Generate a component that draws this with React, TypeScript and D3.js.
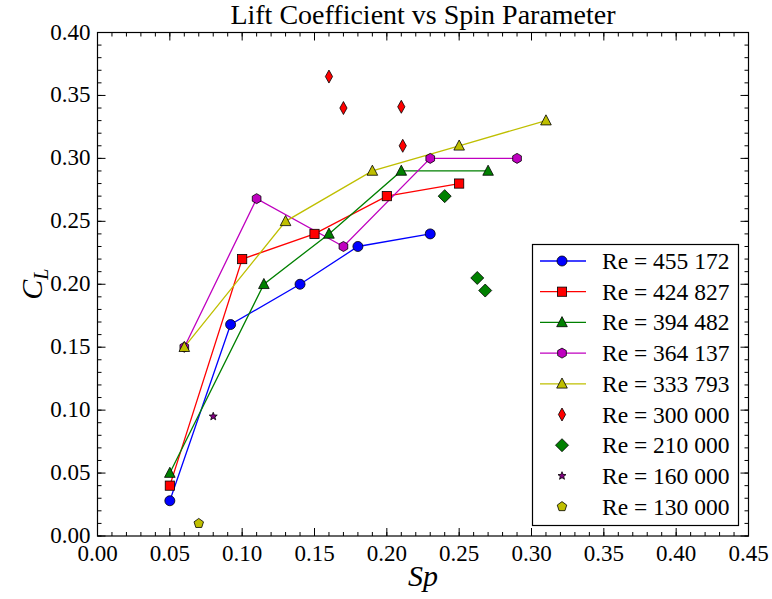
import React from "react";
import * as d3 from "d3";

const W = 772, H = 599;
const M = { left: 97.5, right: 748.5, top: 32.5, bottom: 536 };

const xTicks = [0, 0.05, 0.1, 0.15, 0.2, 0.25, 0.3, 0.35, 0.4, 0.45];
const yTicks = [0, 0.05, 0.1, 0.15, 0.2, 0.25, 0.3, 0.35, 0.4];

// Series with lines
const s455x = [0.05, 0.092, 0.14, 0.18, 0.23];
const s455y = [0.028, 0.168, 0.2, 0.23, 0.24];
const s424x = [0.05, 0.1, 0.15, 0.2, 0.25];
const s424y = [0.04, 0.22, 0.24, 0.27, 0.28];
const s394x = [0.05, 0.115, 0.16, 0.21, 0.27];
const s394y = [0.05, 0.2, 0.24, 0.29, 0.29];
const s364x = [0.06, 0.11, 0.17, 0.23, 0.29];
const s364y = [0.15, 0.268, 0.23, 0.3, 0.3];
const s333x = [0.06, 0.13, 0.19, 0.25, 0.31];
const s333y = [0.15, 0.25, 0.29, 0.31, 0.33];
// Scatter-only series
const s300x = [0.16, 0.17, 0.21, 0.211];
const s300y = [0.365, 0.34, 0.341, 0.31];
const s210x = [0.24, 0.2625, 0.268];
const s210y = [0.27, 0.205, 0.195];
const s160x = [0.08];
const s160y = [0.095];
const s130x = [0.07];
const s130y = [0.01];

const labels = [
  "Re = 455 172", "Re = 424 827", "Re = 394 482", "Re = 364 137", "Re = 333 793",
  "Re = 300 000", "Re = 210 000", "Re = 160 000", "Re = 130 000",
];

type Series = { xs: number[]; ys: number[]; color: string; marker: string; line: boolean; label: string };
const series: Series[] = [
  { xs: s455x, ys: s455y, color: "#0000ff", marker: "circle", line: true, label: labels[0] },
  { xs: s424x, ys: s424y, color: "#ff0000", marker: "square", line: true, label: labels[1] },
  { xs: s394x, ys: s394y, color: "#008000", marker: "triangle", line: true, label: labels[2] },
  { xs: s364x, ys: s364y, color: "#bf00bf", marker: "hexagon", line: true, label: labels[3] },
  { xs: s333x, ys: s333y, color: "#bfbf00", marker: "triangle", line: true, label: labels[4] },
  { xs: s300x, ys: s300y, color: "#ff0000", marker: "thindiamond", line: false, label: labels[5] },
  { xs: s210x, ys: s210y, color: "#008000", marker: "diamond", line: false, label: labels[6] },
  { xs: s160x, ys: s160y, color: "#800080", marker: "star", line: false, label: labels[7] },
  { xs: s130x, ys: s130y, color: "#bfbf00", marker: "pentagon", line: false, label: labels[8] },
];

function polygon(n: number, r: number, rot = -Math.PI / 2) {
  const pts: string[] = [];
  for (let i = 0; i < n; i++) {
    const a = rot + (i * 2 * Math.PI) / n;
    pts.push(`${(r * Math.cos(a)).toFixed(2)},${(r * Math.sin(a)).toFixed(2)}`);
  }
  return "M" + pts.join("L") + "Z";
}
function star(r: number, ri: number) {
  const pts: string[] = [];
  for (let i = 0; i < 10; i++) {
    const a = -Math.PI / 2 + (i * Math.PI) / 5;
    const rr = i % 2 === 0 ? r : ri;
    pts.push(`${(rr * Math.cos(a)).toFixed(2)},${(rr * Math.sin(a)).toFixed(2)}`);
  }
  return "M" + pts.join("L") + "Z";
}

function Marker({ type, x, y, color }: { type: string; x: number; y: number; color: string }) {
  const common = { fill: color, stroke: "#000", strokeWidth: 0.8 };
  let d = "";
  switch (type) {
    case "circle":
      return <circle cx={x} cy={y} r={5} {...common} />;
    case "square":
      return <rect x={x - 4.6} y={y - 4.6} width={9.2} height={9.2} {...common} />;
    case "triangle":
      d = "M0,-5.8L5.3,4.3L-5.3,4.3Z";
      break;
    case "hexagon":
      d = polygon(6, 5, -Math.PI / 2);
      break;
    case "thindiamond":
      d = "M0,-6.5L3.6,0L0,6.5L-3.6,0Z";
      break;
    case "diamond":
      d = "M0,-6.5L6.5,0L0,6.5L-6.5,0Z";
      break;
    case "star":
      d = star(4.2, 1.8);
      break;
    case "pentagon":
      d = polygon(5, 5);
      break;
  }
  return <path d={d} transform={`translate(${x},${y})`} {...common} />;
}

export default function App() {
  const x = d3.scaleLinear().domain([0, 0.45]).range([M.left, M.right]);
  const y = d3.scaleLinear().domain([0, 0.4]).range([M.bottom, M.top]);
  const xMinor = d3.range(0, 0.4501, 0.01).map((v) => +v.toFixed(2));
  const yMinor = d3.range(0, 0.4001, 0.01).map((v) => +v.toFixed(2));
  const font = "'Liberation Serif', 'DejaVu Serif', serif";
  const line = d3.line<[number, number]>().x((d) => x(d[0])).y((d) => y(d[1]));

  const lg = { left: 532.5, top: 244.5, right: 738.5, bottom: 525.5 };
  const rowH = 30.7;
  const row0 = 261;

  return (
    <svg width={W} height={H} style={{ position: "absolute", left: 0, top: 0, background: "#fff" }}>
      <rect width={W} height={H} fill="#fff" />
      {/* series lines */}
      {series.filter((s) => s.line).map((s, i) => (
        <path key={"l" + i} d={line(s.xs.map((v, j) => [v, s.ys[j]]) as [number, number][]) || ""}
          fill="none" stroke={s.color} strokeWidth={1.3} />
      ))}
      {series.map((s, i) => (
        <g key={"m" + i}>
          {s.xs.map((v, j) => (
            <Marker key={j} type={s.marker} x={x(v)} y={y(s.ys[j])} color={s.color} />
          ))}
        </g>
      ))}
      {/* frame */}
      <rect x={M.left} y={M.top} width={M.right - M.left} height={M.bottom - M.top}
        fill="none" stroke="#000" strokeWidth={1.2} />
      {/* ticks */}
      {xMinor.map((v, i) => (
        <g key={"xm" + i}>
          <line x1={x(v)} x2={x(v)} y1={M.bottom} y2={M.bottom - 4} stroke="#000" strokeWidth={1} />
          <line x1={x(v)} x2={x(v)} y1={M.top} y2={M.top + 4} stroke="#000" strokeWidth={1} />
        </g>
      ))}
      {yMinor.map((v, i) => (
        <g key={"ym" + i}>
          <line x1={M.left} x2={M.left + 4} y1={y(v)} y2={y(v)} stroke="#000" strokeWidth={1} />
          <line x1={M.right} x2={M.right - 4} y1={y(v)} y2={y(v)} stroke="#000" strokeWidth={1} />
        </g>
      ))}
      {xTicks.map((v, i) => (
        <g key={"xt" + i}>
          <line x1={x(v)} x2={x(v)} y1={M.bottom} y2={M.bottom - 8} stroke="#000" strokeWidth={1} />
          <line x1={x(v)} x2={x(v)} y1={M.top} y2={M.top + 8} stroke="#000" strokeWidth={1} />
          <text x={x(v)} y={M.bottom + 25} textAnchor="middle" fontFamily={font} fontSize={23} fill="#000">
            {v.toFixed(2)}
          </text>
        </g>
      ))}
      {yTicks.map((v, i) => (
        <g key={"yt" + i}>
          <line x1={M.left} x2={M.left + 8} y1={y(v)} y2={y(v)} stroke="#000" strokeWidth={1} />
          <line x1={M.right} x2={M.right - 8} y1={y(v)} y2={y(v)} stroke="#000" strokeWidth={1} />
          <text x={M.left - 7} y={y(v) + 7} textAnchor="end" fontFamily={font} fontSize={23} fill="#000">
            {v.toFixed(2)}
          </text>
        </g>
      ))}
      {/* title & labels */}
      <text x={(M.left + M.right) / 2} y={24} textAnchor="middle" fontFamily={font} fontSize={28} fill="#000">
        Lift Coefficient vs Spin Parameter
      </text>
      <text x={(M.left + M.right) / 2} y={586} textAnchor="middle" fontFamily={font} fontSize={30}
        fontStyle="italic" fill="#000">Sp</text>
      <text transform={`translate(42, ${(M.top + M.bottom) / 2}) rotate(-90)`} textAnchor="middle"
        fontFamily={font} fontSize={30} fontStyle="italic" fill="#000">
        C<tspan fontSize={20} dy={6}>L</tspan>
      </text>
      {/* legend */}
      <rect x={lg.left} y={lg.top} width={lg.right - lg.left} height={lg.bottom - lg.top}
        fill="#fff" stroke="#000" strokeWidth={1.2} />
      {series.map((s, i) => {
        const ry = row0 + i * rowH;
        return (
          <g key={"lg" + i}>
            {s.line && <line x1={540} x2={586} y1={ry} y2={ry} stroke={s.color} strokeWidth={1.3} />}
            <Marker type={s.marker} x={562} y={ry} color={s.color} />
            <text x={602} y={ry + 8} fontFamily={font} fontSize={23.5} fill="#000">{s.label}</text>
          </g>
        );
      })}
    </svg>
  );
}
